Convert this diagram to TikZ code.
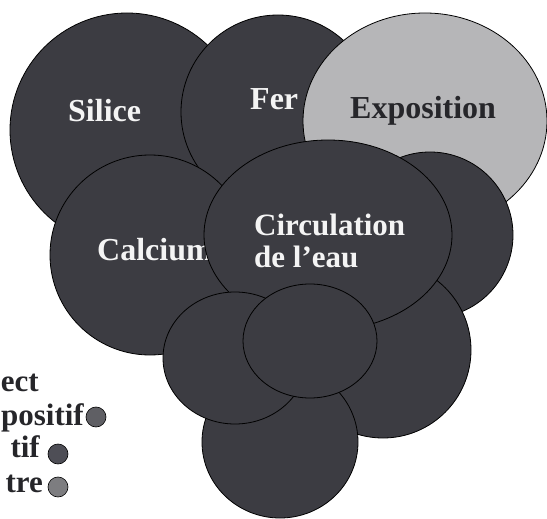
\documentclass[tikz,border=0pt]{standalone}
\usepackage{fontspec}
\setmainfont{Liberation Serif}
\definecolor{ssDark}{RGB}{60, 60, 66}
\definecolor{ssLight}{RGB}{182, 182, 184}
\definecolor{ssInk}{RGB}{38, 38, 42}
\definecolor{ssWhite}{RGB}{244, 244, 244}
\definecolor{ssDotA}{RGB}{95, 95, 100}
\definecolor{ssDotB}{RGB}{78, 78, 86}
\definecolor{ssDotC}{RGB}{125, 125, 128}
\usetikzlibrary{shapes.geometric}
\tikzset{
  blob/.style={ellipse, draw=black, line width=0.8pt, fill=#1, inner sep=0pt},
  blob/.default=ssDark,
  tag/.style={anchor=base west, inner sep=0pt, text=#1, font=\fontsize{32}{34}\selectfont\bfseries},
  tag/.default=ssWhite,
  legtext/.style={anchor=base east, inner sep=0pt, text=ssInk, font=\fontsize{31}{33}\selectfont\bfseries},
  legdot/.style={circle, draw=black, line width=0.6pt, fill=#1, inner sep=0pt, minimum size=20pt},
  legdot/.default=ssDotA,
}

\begin{document}
\begin{tikzpicture}[x=1pt, y=-1pt]
  \useasboundingbox (0,0) rectangle (547,519);
  % back row
  \node[blob, minimum width=234pt, minimum height=234pt] (silice) at (127,130) {};
  \node[tag] (silicetxt) at (68,122) {Silice};
  \node[blob, minimum width=194pt, minimum height=194pt] (fer) at (278,112) {};
  \node[tag] (fertxt) at (250,110) {Fer};
  \node[blob=ssLight, minimum width=244pt, minimum height=216pt] (expo) at (425,121) {};
  \node[tag=ssInk] (expotxt) at (350,118) {Exposition};
  % middle row
  \node[blob, minimum width=166pt, minimum height=166pt] (rightup) at (430,235) {};
  \node[blob, minimum width=200pt, minimum height=200pt] (calcium) at (150,255) {};
  \node[tag] (calciumtxt) at (97,260) {Calcium};
  \node[blob, minimum width=176pt, minimum height=176pt] (rightlow) at (383,350) {};
  \node[blob, minimum width=156pt, minimum height=152pt] (bottom) at (280,442) {};
  \node[blob, minimum width=248pt, minimum height=190pt] (circ) at (328,235) {};
  \node[tag, anchor=north west, align=left, font=\fontsize{31}{32}\selectfont\bfseries] (circtxt) at (254,214) {Circulation\\de l'eau};
  % front row
  \node[blob, minimum width=144pt, minimum height=132pt] (lowleft) at (235,358) {};
  \node[blob, minimum width=134pt, minimum height=114pt] (lowmid) at (310,341) {};

  % legend
  \node[legtext] (legA) at (39,391) {ect};
  \node[legtext] (legB) at (84,425) {positif};
  \node[legdot] (dotB) at (96,417) {};
  \node[legtext] (legC) at (40,457) {tif};
  \node[legdot=ssDotB] (dotC) at (58,454) {};
  \node[legtext] (legD) at (43,492) {tre};
  \node[legdot=ssDotC] (dotD) at (58,487) {};
\end{tikzpicture}
\end{document}
